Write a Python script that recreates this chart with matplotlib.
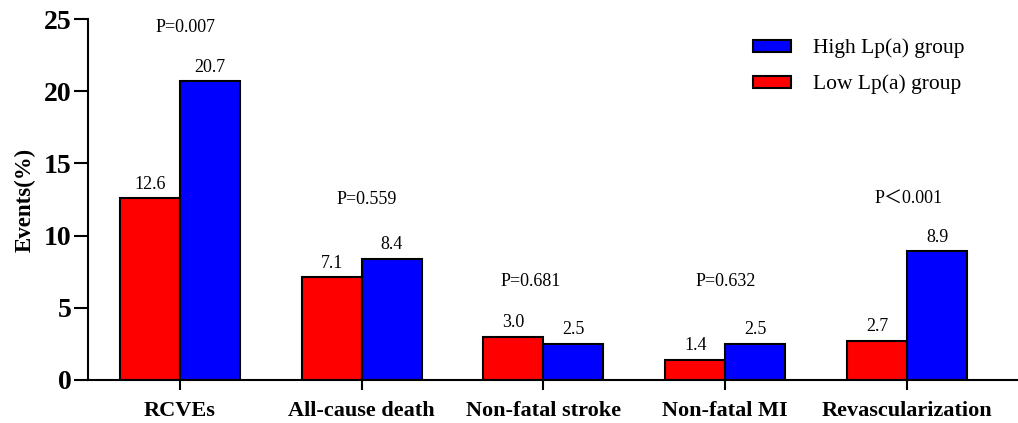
import numpy as np
import matplotlib.pyplot as plt

categories = ["RCVEs", "All-cause death", "Non-fatal stroke", "Non-fatal MI", "Revascularization"]
low_lpa = [12.6, 7.1, 3.0, 1.4, 2.7]
high_lpa = [20.7, 8.4, 2.5, 2.5, 8.9]
p_labels = ["P=0.007", "P=0.559", "P=0.681", "P=0.632", "P\uff1c0.001"]
p_heights = [24.4, 12.5, 6.8, 6.8, 12.5]
p_shift = [0.03, 0.03, -0.07, 0.0, 0.01]

plt.rcParams["font.family"] = ["Liberation Serif", "Noto Sans CJK SC"]

fig = plt.figure(figsize=(10.18, 4.23), dpi=100)
ax = fig.add_axes([0.0864, 0.1017, 0.9136, 0.8533])

x = np.arange(len(categories))
w = 0.33
bars_low = ax.bar(x - w / 2, low_lpa, w, color="#ff0000", edgecolor="black",
                  linewidth=1.5, label="Low Lp(a) group")
bars_high = ax.bar(x + w / 2, high_lpa, w, color="#0000ff", edgecolor="black",
                   linewidth=1.5, label="High Lp(a) group")
ax.bar_label(bars_low, fmt="%.1f", padding=4, fontsize=13)
ax.bar_label(bars_high, fmt="%.1f", padding=4, fontsize=13)

for i, (lab, h) in enumerate(zip(p_labels, p_heights)):
    ax.text(x[i] + p_shift[i], h, lab, ha="center", va="center", fontsize=13)

ax.set_xlim(-0.505, 4.61)
ax.set_ylim(0, 25)
ax.set_yticks([0, 5, 10, 15, 20, 25])
ax.set_xticks(x)
ax.set_xticklabels(categories, fontsize=16, fontweight="bold")
for t in ax.get_yticklabels():
    t.set_fontsize(20)
    t.set_fontweight("bold")
ax.set_ylabel("Events(%)", fontsize=16.5, fontweight="bold", labelpad=6)

ax.spines["top"].set_visible(False)
ax.spines["right"].set_visible(False)
ax.spines["left"].set_linewidth(1.5)
ax.spines["bottom"].set_linewidth(1.5)
ax.tick_params(axis="y", length=10, width=1.5, pad=2)
ax.tick_params(axis="x", length=7, width=1.5, pad=8)

ax.legend(handles=[bars_high, bars_low], loc="upper left",
          bbox_to_anchor=(742 / 1018, 1 - 28 / 423), bbox_transform=fig.transFigure,
          frameon=False, fontsize=15.5, borderpad=0, handlelength=1.77,
          handleheight=0.47, handletextpad=1.05, labelspacing=0.75)

fig.savefig("out.png", dpi=100)
